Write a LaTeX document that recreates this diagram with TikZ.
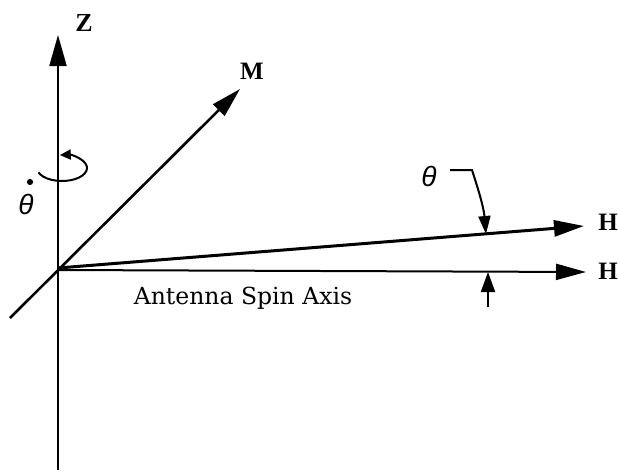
\documentclass[tikz,border=0pt]{standalone}
\usepackage{fontspec}
\setmainfont{Liberation Serif}
\newfontfamily\labfont{Liberation Serif}
\newfontfamily\axfont{DejaVu Serif}
\newfontfamily\thfont{Liberation Sans}
\usetikzlibrary{arrows.meta}
\begin{document}
\begin{tikzpicture}[x=1pt,y=-1pt,
  bigtip/.style={-{Triangle[length=30pt,width=16pt]}},
  smalltip/.style={-{Triangle[length=18pt,width=12pt]}},
  axlabel/.style={font=\labfont\bfseries\fontsize{25}{25}\selectfont, inner sep=0pt},
  thlabel/.style={font=\thfont\itshape\fontsize{28}{28}\selectfont, inner sep=0pt}]
\useasboundingbox (0,0) rectangle (618,474);
\coordinate (O) at (58,268);
\coordinate (Zbot) at (58,470);
\coordinate (Ztip) at (58,35);
\coordinate (Mlow) at (10,318);
\coordinate (Mtip) at (240,89);
\coordinate (H1tip) at (584,226);
\coordinate (H2start) at (58,270);
\coordinate (H2tip) at (586,272);
% axes
\draw[line width=2pt] (Zbot) -- (O);
\draw[line width=2pt, -{Triangle[length=31pt,width=17pt]}] (O) -- (Ztip);
\draw[line width=2.6pt, bigtip] (Mlow) -- (Mtip);
\draw[line width=3pt, bigtip] (O) -- (H1tip);
\draw[line width=2pt, bigtip] (H2start) -- (H2tip);
% labels
\node[axlabel, font=\labfont\bfseries\fontsize{26}{26}\selectfont] (Z) at (84,23) {Z};
\node[axlabel] (M) at (252,71) {M};
\node[axlabel] (H1) at (608,222) {H};
\node[axlabel] (H2) at (608,271) {H};
\node[font=\axfont\fontsize{23.5}{23.5}\selectfont, inner sep=0pt] (axis) at (243,298) {Antenna Spin Axis};
% theta annotation
\node[thlabel] (th) at (429,176) {θ};
\coordinate (tha) at (450,170);
\coordinate (thb) at (472,170);
\coordinate (thtip) at (486,234);
\draw[line width=2pt, smalltip] (tha) -- (thb) to[out=-72,in=95] (thtip);
\coordinate (lowtail) at (488,307);
\coordinate (lowtip) at (488,272);
\draw[line width=2pt, -{Triangle[length=20pt,width=14pt]}] (lowtail) -- (lowtip);
% theta dot with rotation arrow
\node[thlabel] (thd) at (26,204) {θ};
\node[circle, fill, inner sep=2.2pt] (dot) at (30,182) {};
\coordinate (C) at (62,168);
\draw[line width=2pt, -{Triangle[length=11pt,width=10pt]}] ([shift={(160:25 and 13)}]C) arc[start angle=160, end angle=-95, x radius=25, y radius=13];
\end{tikzpicture}
\end{document}
